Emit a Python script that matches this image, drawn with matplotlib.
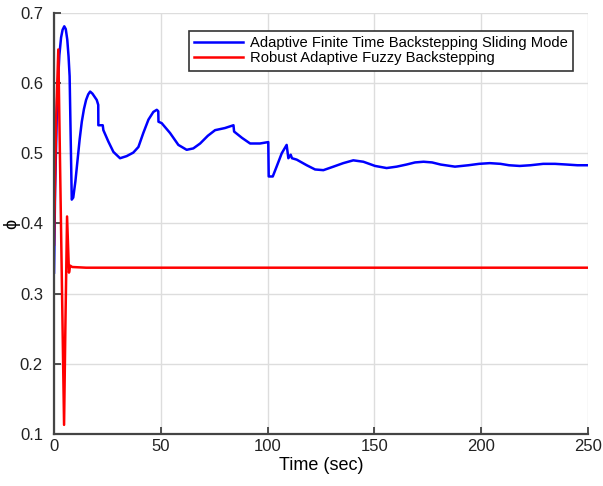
import numpy as np
import matplotlib
matplotlib.use('Agg')
import matplotlib.pyplot as plt

# blue curve - adaptive finite time backstepping sliding mode
t_afbs = [0, 0.5, 1.5, 2.5, 3.3, 4.0, 4.8, 5.5, 6.2, 6.8, 7.3, 8.3, 9, 10, 11, 12, 13, 14, 15,
          16, 16.9, 18, 20, 20.7, 20.75, 22.8, 23.1, 25.4, 27.8, 30.9, 34.0, 37.1, 39.5, 41.8,
          44.2, 46.5, 48.1, 48.8, 48.9, 50.4, 54.3, 58.2, 62.1, 65.2, 68.4, 72, 75.4, 80, 84,
          84.3, 88, 91.8, 96.4, 100.3, 100.5, 102.4, 104.2, 106.6, 108.9, 109.7, 110.8, 111.4,
          113.6, 118.3, 122.2, 126.1, 130.8, 135.4, 140.1, 144.8, 150.3, 155.7, 160.4, 165,
          169, 173, 177, 181, 187.7, 194, 199, 204, 209, 213, 218, 223, 229, 234.5, 240, 245,
          250]
phi_afbs = [0.33, 0.45, 0.58, 0.64, 0.665, 0.676, 0.681, 0.677, 0.662, 0.638, 0.61, 0.434,
            0.437, 0.46, 0.49, 0.52, 0.545, 0.563, 0.576, 0.584, 0.588, 0.585, 0.576, 0.569,
            0.540, 0.540, 0.533, 0.517, 0.502, 0.493, 0.496, 0.501, 0.509, 0.529, 0.548, 0.559,
            0.562, 0.560, 0.545, 0.543, 0.529, 0.512, 0.505, 0.507, 0.514, 0.525, 0.533, 0.536,
            0.540, 0.531, 0.522, 0.514, 0.514, 0.516, 0.467, 0.467, 0.481, 0.500, 0.512, 0.493,
            0.498, 0.493, 0.491, 0.483, 0.477, 0.476, 0.481, 0.486, 0.490, 0.488, 0.482, 0.479,
            0.481, 0.484, 0.487, 0.488, 0.487, 0.484, 0.481, 0.483, 0.485, 0.486, 0.485, 0.483,
            0.482, 0.483, 0.485, 0.485, 0.484, 0.483, 0.483]

# red curve - robust adaptive fuzzy backstepping
t_rafb = [0, 1, 2.0, 3, 4.7, 5.3, 6.1, 7.0, 7.5, 8.5, 15, 250]
phi_rafb = [0.37, 0.55, 0.648, 0.45, 0.113, 0.25, 0.410, 0.330, 0.340, 0.338, 0.337, 0.337]

xticks = [0, 50, 100, 150, 200, 250]
yticks = [0.1, 0.2, 0.3, 0.4, 0.5, 0.6, 0.7]

plt.rcParams['font.family'] = ['Liberation Sans', 'DejaVu Sans']

fig = plt.figure(figsize=(6.03, 4.86), dpi=100)
ax = fig.add_axes([0.0896, 0.107, 0.8856, 0.8663])

ax.plot(t_afbs, phi_afbs, color='#0000ff', lw=1.8, label='Adaptive Finite Time Backstepping Sliding Mode')
ax.plot(t_rafb, phi_rafb, color='#ff0000', lw=1.8, label='Robust Adaptive Fuzzy Backstepping')

ax.set_xlim(0, 250)
ax.set_ylim(0.1, 0.7)
ax.set_xticks(xticks)
ax.set_yticks(yticks)
ax.set_xticklabels([str(x) for x in xticks])
ax.set_yticklabels([str(y) for y in yticks])
ax.tick_params(direction='in', labelsize=12, colors='#333333', length=5, width=1.2,
               labelcolor='#222222')
ax.tick_params(axis='y', pad=8)
ax.grid(True, color='#dddddd', lw=1)
ax.set_axisbelow(True)
for s in ['top', 'right']:
    ax.spines[s].set_visible(False)
for s in ['left', 'bottom']:
    ax.spines[s].set_color('#444444')
    ax.spines[s].set_linewidth(1.6)

ax.set_xlabel('Time (sec)', fontsize=13, labelpad=2)
ax.set_ylabel('ϕ', fontsize=13, labelpad=0)

leg = ax.legend(loc='upper right', fontsize=10.6, fancybox=False, framealpha=1,
                edgecolor='#333333', handlelength=3.3, handletextpad=0.45, borderpad=0.35,
                labelspacing=0.1, bbox_to_anchor=(0.985, 0.975))
leg.get_frame().set_linewidth(1.2)

fig.savefig('out.png', dpi=100)
